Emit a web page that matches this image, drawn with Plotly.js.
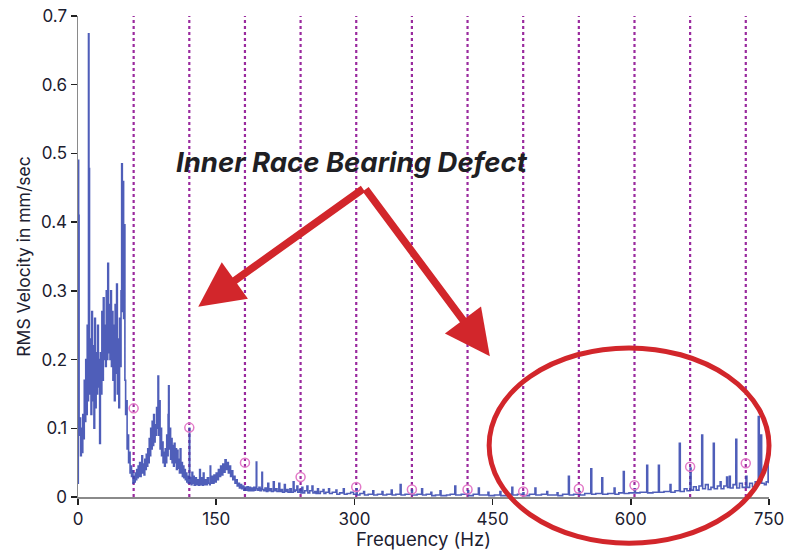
<!DOCTYPE html>
<html>
<head>
<meta charset="utf-8">
<script src="https://cdn.plot.ly/plotly-3.0.1.min.js"></script>
<style>
  html, body { margin: 0; padding: 0; background: #ffffff; }
  #chart { width: 790px; height: 550px; }
</style>
</head>
<body>
<div id="chart"></div>
<script>
// Spectrum values: [frequency Hz, RMS velocity mm/sec]
const spectrumLow = [
  [0,0.02],[0.3,0.49],[0.7,0.41],[1.2,0.09],[2,0.115],[2.8,0.06],[3.6,0.1],[4.4,0.065],[5.2,0.12],[6,0.085],
  [6.8,0.17],[7.6,0.11],[8.4,0.2],[9.2,0.12],[10,0.25],[10.8,0.14],[11.4,0.674],[11.9,0.478],[12.5,0.15],[13.3,0.23],
  [14.1,0.12],[14.9,0.27],[15.7,0.14],[16.5,0.22],[17.3,0.1],[18.1,0.26],[18.9,0.13],[19.7,0.21],[20.5,0.15],[21.3,0.25],
  [22.1,0.16],[22.9,0.2],[23.5,0.078],[24.3,0.21],[25.1,0.15],[25.9,0.27],[26.7,0.17],[27.5,0.29],[28.3,0.2],[29.1,0.25],
  [29.9,0.19],[30.7,0.3],[31.5,0.2],[32.3,0.34],[33.1,0.21],[33.9,0.28],[34.7,0.2],[35.5,0.3],[36.3,0.19],[37.1,0.27],
  [37.9,0.17],[38.7,0.25],[39.5,0.14],[40.3,0.28],[41.1,0.18],[41.9,0.31],[42.7,0.15],[43.5,0.23],[44.3,0.13],[45.1,0.26],
  [45.9,0.19],[46.7,0.3],[47.4,0.485],[48.1,0.27],[48.8,0.459],[49.5,0.26],[50.2,0.396],[50.9,0.17],[51.7,0.12],[52.5,0.14],
  [53.3,0.07],[54.1,0.09],[54.9,0.05],[55.7,0.065],[56.5,0.035],[57.3,0.045],[58.1,0.03],[58.9,0.038],[59.7,0.02]
];
const spectrumMid = [
  [60.5,0.03],[61.3,0.022],[62.1,0.035],[62.9,0.025],[63.7,0.04],[64.5,0.028],[65.3,0.045],[66.1,0.03],[66.9,0.05],[67.7,0.03],
  [68.5,0.042],[69.3,0.06],[70.1,0.035],[70.9,0.048],[71.7,0.032],[72.5,0.055],[73.3,0.04],[74.1,0.062],[74.9,0.045],[75.7,0.07],
  [76.5,0.05],[77.3,0.085],[78.1,0.06],[78.9,0.1],[79.7,0.07],[80.5,0.11],[81.3,0.075],[82.1,0.12],[82.9,0.08],[83.7,0.105],
  [84.5,0.09],[85.3,0.13],[86.1,0.1],[86.8,0.176],[87.5,0.09],[88.3,0.14],[89.1,0.07],[89.9,0.1],[90.7,0.06],[91.5,0.08],
  [92.3,0.05],[93.1,0.065],[93.9,0.045],[94.7,0.07],[95.5,0.05],[96.3,0.09],[97.1,0.06],[97.8,0.12],[98.3,0.162],[98.9,0.07],
  [99.7,0.1],[100.5,0.055],[101.3,0.085],[102.1,0.05],[102.9,0.075],[103.7,0.045],[104.5,0.078],[105.3,0.05],[106.1,0.07],[106.9,0.04],
  [107.7,0.068],[108.5,0.042],[109.3,0.055],[110.1,0.035],[110.9,0.07],[111.7,0.035],[112.5,0.05],[113.3,0.03],[114.1,0.045],[114.9,0.028],
  [115.7,0.04],[116.5,0.025],[117.3,0.035],[118.1,0.022],[118.9,0.03],[119.7,0.02],[120.3,0.025],[120.8,0.1],[121.3,0.02],[122.1,0.028],
  [122.9,0.018],[123.7,0.036],[124.5,0.02],[125.3,0.03],[126.1,0.017],[127.3,0.028],[128.5,0.018],[129.7,0.025],[130.9,0.017],[132,0.04],
  [132.8,0.018],[134,0.028],[135.2,0.017],[136,0.035],[136.8,0.018],[138,0.025],[139.2,0.018],[140.4,0.028],[141.6,0.02],[143,0.018],
  [143.5,0.045],[144,0.02],[145.2,0.03],[146.4,0.02],[147.6,0.032],[148.8,0.022],[150,0.035],[151.2,0.025],[152.4,0.04],[153.6,0.03],
  [154.8,0.045],[156,0.032],[157.2,0.048],[158.4,0.036],[159.6,0.054],[160.8,0.04],[162,0.05],[163.2,0.035],[164.4,0.045],[165.6,0.03],
  [166.8,0.038],[168,0.025],[169.2,0.03],[170.4,0.02],[171.6,0.025],[172.8,0.016],[174,0.02],[175.2,0.013],[176.4,0.018],[177.6,0.012],
  [178.8,0.016],[180,0.01],[181.2,0.014],[182.4,0.01],[183.6,0.015],[184.8,0.009],[186,0.014],[187.2,0.009],[188.4,0.013],[189.6,0.009],
  [190.8,0.014],[192,0.01],[193,0.012],[193.5,0.051],[194,0.012],[195.2,0.01],[196.4,0.014],[197.6,0.009],[199,0.012],[199.6,0.036],[200.2,0.011]
];
const spectrumHigh = [
  [201.5,0.009],[203,0.013],[204.5,0.008],[206,0.02],[207,0.009],[208.5,0.012],[210,0.008],[212,0.022],[213,0.009],[214.5,0.012],
  [216,0.008],[218,0.02],[219,0.008],[220.5,0.011],[222,0.007],[224,0.018],[225,0.008],[226.5,0.011],[228,0.007],[230,0.012],
  [231.5,0.007],[233.6,0.022],[234.5,0.008],[236,0.01],[237.6,0.016],[238.6,0.007],[240.5,0.011],[242,0.006],[243,0.014],[244,0.006],
  [246,0.009],[248.5,0.016],[249.5,0.006],[251.5,0.009],[254,0.016],[255,0.006],[257,0.008],[258.5,0.005],[260,0.012],[261,0.005],
  [263,0.008],[266,0.011],[267,0.005],[269,0.007],[272,0.012],[273,0.005],[276,0.007],[280,0.01],[281,0.004],[284,0.006],
  [288,0.012],[289,0.004],[292,0.005],[296,0.007],[299,0.004],[302,0.012],[303,0.003],[306,0.005],[310,0.008],[311,0.003],
  [315,0.004],[320,0.009],[321,0.003],[325,0.004],[330,0.008],[331,0.003],[335,0.004],[340,0.01],[341,0.003],[345,0.004],
  [349.7,0.018],[350.7,0.003],[355,0.004],[362,0.01],[363,0.003],[368,0.004],[373,0.012],[374,0.003],[378,0.004],[383,0.007],
  [384,0.002],[388,0.003],[393,0.009],[394,0.002],[400,0.003],[404,0.004],[409,0.016],[410,0.003],[416,0.004],[423,0.009],
  [424,0.002],[429,0.004],[434.6,0.013],[435.6,0.003],[440,0.003],[445,0.007],[446,0.002],[452,0.003],[458,0.008],[459,0.002],
  [465,0.004],[470.9,0.014],[471.9,0.003],[477,0.004],[483,0.006],[484,0.002],[490,0.004],[496,0.013],[497,0.003],[503,0.004],
  [508.8,0.008],[509.8,0.003],[515,0.003],[520,0.006],[521,0.002],[526,0.004],[532.3,0.03],[533.3,0.003],[538,0.004],[544,0.008],
  [545,0.003],[550,0.005],[556.6,0.041],[557.6,0.004],[562,0.005],[568.5,0.028],[569.5,0.004],[575,0.005],[581.9,0.013],[582.9,0.004],
  [587,0.006],[591.9,0.037],[592.9,0.005],[598,0.006],[604,0.012],[605,0.006],[610,0.007],[617.3,0.046],[618.3,0.006],[624,0.007],
  [630,0.046],[631,0.007],[636,0.008],[642.6,0.018],[643.6,0.007],[648,0.009],[652.7,0.078],[653.7,0.008],[658,0.012],[661,0.009],
  [664.4,0.042],[665.4,0.01],[668,0.015],[671,0.01],[674,0.016],[677,0.09],[678,0.012],[681,0.018],[684,0.011],[687,0.014],
  [689.6,0.078],[690.6,0.012],[694,0.016],[697,0.022],[698,0.012],[701,0.016],[704,0.029],[705,0.014],[707,0.03],[708,0.013],
  [711,0.018],[714,0.084],[715,0.013],[718,0.02],[721,0.014],[725,0.03],[726,0.014],[729,0.02],[732,0.015],[735,0.022],
  [737.5,0.018],[738.4,0.117],[739.4,0.03],[741,0.09],[742,0.02],[745,0.018],[747,0.022],[749,0.097],[750,0.02]
];

// Defect harmonic frequencies (dotted lines) and marked amplitudes
const defectHz  = [60.4, 120.8, 181.2, 241.6, 302, 362.4, 422.8, 483.2, 543.6, 604, 664.4, 724.8];
const markerVel = [0.129, 0.101, 0.050, 0.029, 0.0146, 0.011, 0.011, 0.008, 0.012, 0.017, 0.044, 0.049];

// Axis ticks
const xTicks = [0, 150, 300, 450, 600, 750];
const yTicks = [0, 0.1, 0.2, 0.3, 0.4, 0.5, 0.6, 0.7];

const calloutText = "Inner Race Bearing Defect";

const spectrum = spectrumLow.concat(spectrumMid, spectrumHigh);

const traces = [
  {
    type: 'scatter', mode: 'lines',
    x: spectrum.map(p => p[0]), y: spectrum.map(p => p[1]),
    line: { color: 'rgba(55,72,175,0.88)', width: 1.6, shape: 'hv' },
    hoverinfo: 'skip', showlegend: false
  },
  {
    type: 'scatter', mode: 'markers',
    x: defectHz, y: markerVel,
    marker: { symbol: 'circle-open', size: 9, color: '#e27ac8', line: { width: 1.5, color: '#e27ac8' } },
    showlegend: false
  }
];

const shapes = defectHz.map(f => ({
  type: 'line', xref: 'x', yref: 'paper', x0: f, x1: f, y0: 0, y1: 1,
  line: { color: '#9a2a9e', width: 2.2, dash: 'dot' }, layer: 'below'
}));
shapes.push({
  type: 'circle', xref: 'paper', yref: 'paper',
  x0: 0.595, x1: 1.0, y0: -0.096, y1: 0.31,
  line: { color: '#d2262b', width: 5 }, fillcolor: 'rgba(0,0,0,0)'
});

const annotations = [
  {
    xref: 'x', yref: 'y', x: 130.5, y: 0.277, axref: 'x', ayref: 'y', ax: 311, ay: 0.45,
    showarrow: true, arrowhead: 2, arrowsize: 1.2, arrowwidth: 7.5, arrowcolor: '#d2262b', text: ''
  },
  {
    xref: 'x', yref: 'y', x: 447, y: 0.205, axref: 'x', ayref: 'y', ax: 311, ay: 0.45,
    showarrow: true, arrowhead: 2, arrowsize: 1.2, arrowwidth: 7.5, arrowcolor: '#d2262b', text: ''
  },
  {
    xref: 'x', yref: 'y', x: 297, y: 0.487, showarrow: false,
    text: '<b><i>' + calloutText + '</i></b>',
    font: { family: 'Inter, Roboto, sans-serif', size: 27.5, color: '#1f1f24' }
  }
];

const layout = {
  width: 790, height: 550,
  margin: { l: 78, r: 21, t: 16, b: 53 },
  paper_bgcolor: '#ffffff', plot_bgcolor: '#ffffff',
  showlegend: false,
  xaxis: {
    range: [0, 750], tickvals: xTicks, ticktext: xTicks.map(String),
    showgrid: false, zeroline: false, showline: true, linecolor: '#8a8a8a', linewidth: 1.5,
    ticks: 'outside', ticklen: 6, tickwidth: 1.5, tickcolor: '#222',
    tickfont: { family: 'Inter, Roboto, sans-serif', size: 17, color: '#1c2030' },
    title: { text: 'Frequency (Hz)', font: { family: 'Inter, Roboto, sans-serif', size: 18.5, color: '#1c2030' }, standoff: 4 }
  },
  yaxis: {
    range: [0, 0.7], tickvals: yTicks, ticktext: yTicks.map(String),
    showgrid: false, zeroline: false, showline: true, linecolor: '#8a8a8a', linewidth: 1.5,
    ticks: 'outside', ticklen: 6, tickwidth: 1.5, tickcolor: '#222',
    tickfont: { family: 'Inter, Roboto, sans-serif', size: 17, color: '#1c2030' },
    title: { text: 'RMS Velocity in mm/sec', font: { family: 'Inter, Roboto, sans-serif', size: 17.5, color: '#1c2030' }, standoff: 6 }
  },
  shapes: shapes,
  annotations: annotations
};

Plotly.newPlot('chart', traces, layout, { displayModeBar: false, staticPlot: true });
</script>
</body>
</html>
